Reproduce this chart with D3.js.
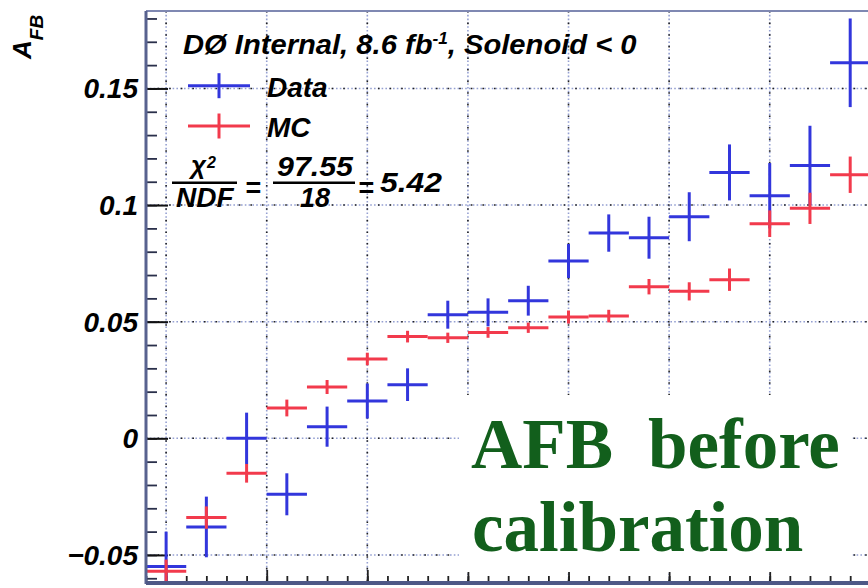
<!DOCTYPE html>
<meta charset="utf-8">
<style>
body { margin: 0; background: #fff; }
text { font-family: "Liberation Sans", Arial, Helvetica, sans-serif; font-weight: bold; font-style: italic; fill: #000; }
.note { font-family: "Liberation Serif", "Times New Roman", serif; font-style: normal; fill: #125f1c; }
</style>
<body>
<script src="https://d3js.org/d3.v7.min.js"></script>
<script>

// bin centres (bins are 0.2 wide)
var binCentres = [0.0, 0.2, 0.4, 0.6, 0.8, 1.0, 1.2, 1.4, 1.6, 1.8, 2.0, 2.2, 2.4, 2.6, 2.8, 3.0, 3.2, 3.4];
var binHalfWidth = 0.1;

// A_FB in data
var dataValues = [-0.055, -0.038, 0.000, -0.024, 0.005, 0.016, 0.023, 0.053, 0.054, 0.059,
                  0.076, 0.088, 0.086, 0.095, 0.114, 0.104, 0.117, 0.161];
var dataErrors = [0.015, 0.013, 0.011, 0.009, 0.0086, 0.0075, 0.007, 0.006, 0.006, 0.0064,
                  0.0073, 0.008, 0.009, 0.0105, 0.012, 0.014, 0.017, 0.019];

// A_FB in MC
var mcValues = [-0.057, -0.034, -0.015, 0.013, 0.022, 0.034, 0.0436, 0.0431, 0.0454, 0.0474,
                0.052, 0.0524, 0.065, 0.063, 0.068, 0.092, 0.0986, 0.113];
var mcErrors = [0.005, 0.0048, 0.004, 0.0036, 0.003, 0.0027, 0.0025, 0.0022, 0.0023, 0.0022,
                0.0028, 0.0027, 0.0033, 0.0039, 0.0048, 0.0057, 0.0067, 0.0078];

var yTicks = [-0.05, 0, 0.05, 0.1, 0.15];
var xGridTicks = [0, 0.5, 1.0, 1.5, 2.0, 2.5, 3.0, 3.5];

var W = 868, H = 588;
var frame = {left: 146, top: 11, bottom: 582};

var blue = "#3236dc", red = "#f23a4c";

var x = d3.scaleLinear().domain([-0.1, 3.7]).range([frame.left, frame.left + 38 * 20.12]);
var y = d3.scaleLinear().domain([-0.0616, 0.1832]).range([frame.bottom, frame.top]);

var svg = d3.select("body").append("svg")
    .attr("width", W)
    .attr("height", H);

svg.append("rect").attr("width", W).attr("height", H).attr("fill", "#fff");

svg.append("clipPath").attr("id", "plot")
  .append("rect")
    .attr("x", frame.left).attr("y", frame.top)
    .attr("width", W - frame.left).attr("height", frame.bottom - frame.top);

// grid (dotted, blue-ish with dark dots)
var grid = svg.append("g").attr("clip-path", "url(#plot)");
function gridLines(sel) {
    sel.attr("stroke", "#95a0d2").attr("stroke-width", 1.6).attr("stroke-dasharray", "1.6,2.2");
}
function gridDots(sel) {
    sel.attr("stroke", "#222").attr("stroke-width", 1.6).attr("stroke-dasharray", "1.6,10");
}
[gridLines, gridDots].forEach(function (style) {
    grid.selectAll(null).data(xGridTicks).enter().append("line")
        .attr("x1", function (d) { return x(d); }).attr("x2", function (d) { return x(d); })
        .attr("y1", frame.top).attr("y2", frame.bottom)
        .call(style);
    grid.selectAll(null).data(yTicks).enter().append("line")
        .attr("x1", frame.left).attr("x2", W)
        .attr("y1", function (d) { return y(d); }).attr("y2", function (d) { return y(d); })
        .call(style);
});

// y axis ticks (inside the frame)
svg.append("g")
    .attr("transform", "translate(" + frame.left + ",0)")
    .call(d3.axisRight(y).tickValues(y.ticks(25)).tickSize(11).tickFormat(""))
    .call(function (g) { g.select(".domain").remove(); g.selectAll("line").attr("stroke", "#2a2f4a").attr("stroke-width", 1.8); });
svg.append("g")
    .attr("transform", "translate(" + frame.left + ",0)")
    .call(d3.axisRight(y).tickValues(yTicks).tickSize(22).tickFormat(""))
    .call(function (g) { g.select(".domain").remove(); g.selectAll("line").attr("stroke", "#111").attr("stroke-width", 2); });

// y tick labels
svg.append("g")
    .attr("transform", "translate(" + frame.left + ",0)")
    .call(d3.axisLeft(y).tickValues(yTicks).tickSize(0).tickPadding(8)
        .tickFormat(function (d) { return d === 0 ? "0" : d3.format(".2~f")(d); }))
    .call(function (g) {
        g.select(".domain").remove();
        g.selectAll("text").attr("font-size", 28).attr("fill", "#000")
            .attr("font-family", null).attr("dy", "0.34em");
    });

// x axis ticks (bottom, pointing up)
svg.append("g")
    .attr("transform", "translate(0," + frame.bottom + ")")
    .call(d3.axisTop(x).tickValues(x.ticks(38)).tickSize(6).tickFormat(""))
    .call(function (g) { g.select(".domain").remove(); g.selectAll("line").attr("stroke", "#222").attr("stroke-width", 1.8); });
svg.append("g")
    .attr("transform", "translate(0," + frame.bottom + ")")
    .call(d3.axisTop(x).tickValues(xGridTicks).tickSize(12).tickFormat(""))
    .call(function (g) { g.select(".domain").remove(); g.selectAll("line").attr("stroke", "#222").attr("stroke-width", 1.8); });

// error-bar crosses
var marks = svg.append("g").attr("clip-path", "url(#plot)");
function drawSeries(values, errors, colour) {
    var g = marks.append("g").attr("stroke", colour).attr("stroke-width", 3);
    g.selectAll(null).data(values).enter().append("line")
        .attr("x1", function (d, i) { return x(binCentres[i] - binHalfWidth); })
        .attr("x2", function (d, i) { return x(binCentres[i] + binHalfWidth); })
        .attr("y1", function (d) { return y(d); })
        .attr("y2", function (d) { return y(d); });
    g.selectAll(null).data(values).enter().append("line")
        .attr("x1", function (d, i) { return x(binCentres[i]); })
        .attr("x2", function (d, i) { return x(binCentres[i]); })
        .attr("y1", function (d, i) { return y(d - errors[i]); })
        .attr("y2", function (d, i) { return y(d + errors[i]); });
}
drawSeries(dataValues, dataErrors, blue);
drawSeries(mcValues, mcErrors, red);

// frame lines
svg.append("line").attr("x1", frame.left).attr("x2", W).attr("y1", frame.top).attr("y2", frame.top)
    .attr("stroke", "#7f88b2").attr("stroke-width", 2);
svg.append("line").attr("x1", frame.left).attr("x2", frame.left).attr("y1", frame.top).attr("y2", frame.bottom + 2)
    .attr("stroke", "#58628f").attr("stroke-width", 3);
svg.append("line").attr("x1", frame.left).attr("x2", W).attr("y1", frame.bottom + 1).attr("y2", frame.bottom + 1)
    .attr("stroke", "#4e5886").attr("stroke-width", 4);

// y axis title
var yTitle = svg.append("text")
    .attr("transform", "translate(31,59) rotate(-90)")
    .attr("font-size", 26)
    .text("A");
yTitle.append("tspan").attr("font-size", 19).attr("dy", 12).text("FB");

// legend
var leg = svg.append("g");
var head = leg.append("text").attr("transform", "translate(183,53.5) scale(1.08,1)")
    .attr("font-size", 27).text("DØ Internal, 8.6 fb");
head.append("tspan").attr("font-size", 16).attr("dy", -10).text("-1");
head.append("tspan").attr("dy", 10).text(", Solenoid < 0");

[{label: "Data", colour: blue, cy: 85.7}, {label: "MC", colour: red, cy: 126}].forEach(function (e) {
    leg.append("line").attr("x1", 188).attr("x2", 250).attr("y1", e.cy).attr("y2", e.cy)
        .attr("stroke", e.colour).attr("stroke-width", 3);
    leg.append("line").attr("x1", 219).attr("x2", 219).attr("y1", e.cy - 12.5).attr("y2", e.cy + 12.5)
        .attr("stroke", e.colour).attr("stroke-width", 3);
    leg.append("text").attr("x", 267).attr("y", e.cy + 11).attr("font-size", 28).text(e.label);
});

// chi2 / NDF
var chi = leg.append("text").attr("x", 191).attr("y", 174).attr("font-size", 26)
    .attr("font-style", "normal").attr("font-weight", "normal")
    .attr("font-family", "'DejaVu Sans', sans-serif").text("χ");
chi.append("tspan").attr("x", 207).attr("y", 168).attr("font-size", 16)
    .attr("font-family", "'Liberation Sans', Arial, sans-serif").attr("font-weight", "bold").text("2");
leg.append("line").attr("x1", 172).attr("x2", 237).attr("y1", 182.7).attr("y2", 182.7).attr("stroke", "#000").attr("stroke-width", 2.5);
leg.append("text").attr("x", 176).attr("y", 206.7).attr("font-size", 28).text("NDF");
leg.append("text").attr("x", 245).attr("y", 197).attr("font-size", 27).text("=");
leg.append("text").attr("x", 277).attr("y", 176).attr("font-size", 27)
    .attr("textLength", 76).attr("lengthAdjust", "spacingAndGlyphs").text("97.55");
leg.append("line").attr("x1", 273).attr("x2", 355).attr("y1", 182.7).attr("y2", 182.7).attr("stroke", "#000").attr("stroke-width", 2.5);
leg.append("text").attr("x", 300).attr("y", 206.7).attr("font-size", 27).text("18");
leg.append("text").attr("x", 358).attr("y", 197).attr("font-size", 27).text("=");
leg.append("text").attr("x", 380).attr("y", 191.7).attr("font-size", 27)
    .attr("textLength", 62).attr("lengthAdjust", "spacingAndGlyphs").text("5.42");

// annotation box
svg.append("rect").attr("x", 459).attr("y", 395).attr("width", 392).attr("height", 177).attr("fill", "#fff");
var note = svg.append("g").attr("font-size", 71).attr("font-weight", "bold");
note.append("text").attr("class", "note").attr("x", 471).attr("y", 468).text("AFB");
note.append("text").attr("class", "note").attr("x", 648).attr("y", 468).text("before");
note.append("text").attr("class", "note").attr("x", 472).attr("y", 551).text("calibration");

</script>
</body>
